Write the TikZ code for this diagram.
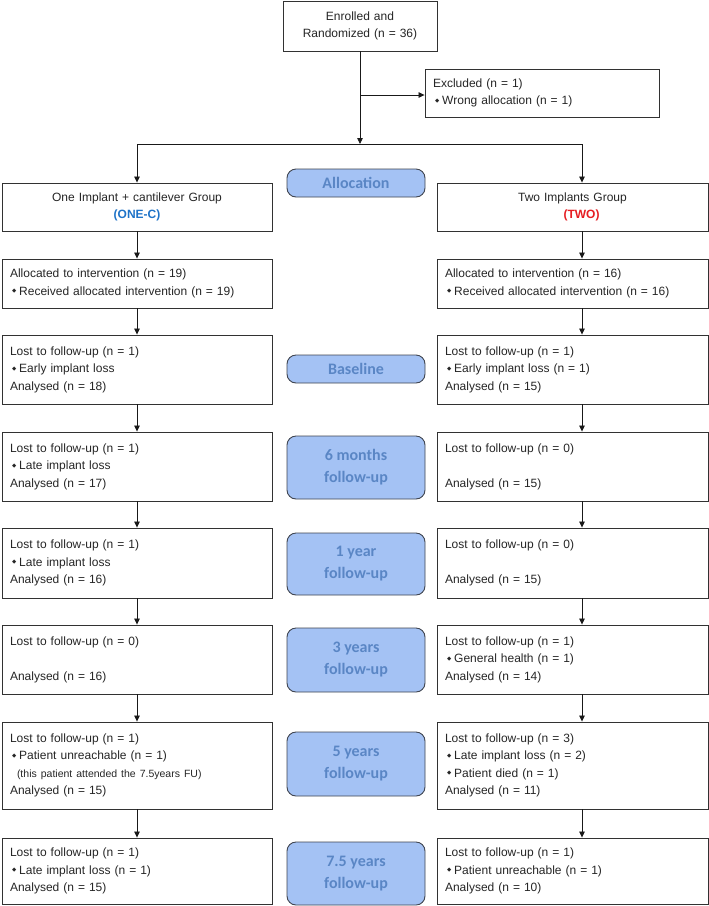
\documentclass[tikz,border=0pt]{standalone}
\usepackage{fontspec}
\setmainfont{Liberation Sans}
\newfontfamily\pillfont{Carlito}
\newfontfamily\symfont{DejaVu Sans}
\usetikzlibrary{arrows.meta,calc}
\definecolor{pillfill}{RGB}{164,194,244}
\definecolor{pilltext}{RGB}{90,134,197}
\definecolor{pilldraw}{RGB}{64,69,80}
\definecolor{oneblue}{RGB}{30,115,200}
\definecolor{twored}{RGB}{230,30,35}
\definecolor{boxline}{RGB}{50,50,50}
\newcommand\bul{\hspace*{2pt}\raisebox{2.6pt}{\symfont\fontsize{5.5}{5.5}\selectfont ◆}\hspace{3pt}}
\newcommand\smallnote[1]{{\fontsize{10.5}{17.5}\selectfont\hspace*{7pt}#1}}
\begin{document}
\begin{tikzpicture}[x=1pt,y=-1pt,
  box/.style={draw=boxline, line width=0.9pt, fill=white, inner xsep=8pt, inner ysep=0pt,
    text width=254pt, align=left, font=\fontsize{12}{17.5}\selectfont, text=black!85},
  rbox/.style={box, text width=255pt},
  pill/.style={draw=pilldraw, line width=0.9pt, fill=pillfill, rounded corners=9pt,
    minimum width=138pt, text=pilltext, font=\pillfont\bfseries\fontsize{16}{22}\selectfont,
    align=center, inner sep=0pt},
  arr/.style={draw=black!90, line width=0.8pt, -{Triangle[length=6pt,width=5.5pt]}},
  ln/.style={draw=black!90, line width=0.8pt}]

\useasboundingbox (0,0) rectangle (709,906);
\fill[white] (0,0) rectangle (709,906);

% top
\node[box, align=center, text width=140pt, inner xsep=7pt, minimum height=50pt] (enr) at (360,26)
  {Enrolled and\\Randomized (n = 36)};
\node[box, text width=218pt, minimum height=48pt] (exc) at (542,93)
  {Excluded (n = 1)\\\bul Wrong allocation (n = 1)};

\coordinate (split) at (360,144);
\coordinate (lj) at (137,144);
\coordinate (rj) at (582,144);

% group boxes
\node[box, align=center, minimum height=48pt] (g1) at (137,207)
  {One Implant + cantilever Group\\{\bfseries\color{oneblue}(ONE-C)}};
\node[rbox, align=center, minimum height=48pt] (g2) at (572.5,207)
  {Two Implants Group\\\hspace*{18pt}{\bfseries\color{twored}(TWO)}};
\node[pill, minimum height=28pt] (p0) at (356,183) {Allocation};

% allocated
\node[box, minimum height=49pt] (l1) at (137,283.5)
  {Allocated to intervention (n = 19)\\\bul Received allocated intervention (n = 19)};
\node[rbox, minimum height=49pt] (r1) at (572.5,283.5)
  {Allocated to intervention (n = 16)\\\bul Received allocated intervention (n = 16)};

% baseline
\node[box, minimum height=69pt] (l2) at (137,369.5)
  {Lost to follow-up (n = 1)\\\bul Early implant loss\\Analysed (n = 18)};
\node[rbox, minimum height=69pt] (r2) at (572.5,369.5)
  {Lost to follow-up (n = 1)\\\bul Early implant loss (n = 1)\\Analysed (n = 15)};
\node[pill, minimum height=28pt] (p1) at (356,369) {Baseline};

% 6 months
\node[box, minimum height=69pt] (l3) at (137,466.5)
  {Lost to follow-up (n = 1)\\\bul Late implant loss\\Analysed (n = 17)};
\node[rbox, minimum height=69pt] (r3) at (572.5,466.5)
  {Lost to follow-up (n = 0)\\~\\Analysed (n = 15)};
\node[pill, minimum height=63pt] (p2) at (356,467.5) {6 months\\follow-up};

% 1 year
\node[box, minimum height=70pt] (l4) at (137,563)
  {Lost to follow-up (n = 1)\\\bul Late implant loss\\Analysed (n = 16)};
\node[rbox, minimum height=70pt] (r4) at (572.5,563)
  {Lost to follow-up (n = 0)\\~\\Analysed (n = 15)};
\node[pill, minimum height=62pt] (p3) at (356,564) {1 year\\follow-up};

% 3 years
\node[box, minimum height=69pt] (l5) at (137,659.5)
  {Lost to follow-up (n = 0)\\~\\Analysed (n = 16)};
\node[rbox, minimum height=69pt] (r5) at (572.5,659.5)
  {Lost to follow-up (n = 1)\\\bul General health (n = 1)\\Analysed (n = 14)};
\node[pill, minimum height=64pt] (p4) at (356,660) {3 years\\follow-up};

% 5 years
\node[box, minimum height=87pt] (l6) at (137,765.5)
  {Lost to follow-up (n = 1)\\\bul Patient unreachable (n = 1)\\\smallnote{(this patient attended the 7.5years FU)}\\Analysed (n = 15)};
\node[rbox, minimum height=87pt] (r6) at (572.5,765.5)
  {Lost to follow-up (n = 3)\\\bul Late implant loss (n = 2)\\\bul Patient died (n = 1)\\Analysed (n = 11)};
\node[pill, minimum height=64pt] (p5) at (356,764) {5 years\\follow-up};

% 7.5 years
\node[box, minimum height=66pt] (l7) at (137,871)
  {Lost to follow-up (n = 1)\\\bul Late implant loss (n = 1)\\Analysed (n = 15)};
\node[rbox, minimum height=66pt] (r7) at (572.5,871)
  {Lost to follow-up (n = 1)\\\bul Patient unreachable (n = 1)\\Analysed (n = 10)};
\node[pill, minimum height=63pt] (p6) at (356,873.5) {7.5 years\\follow-up};

% connectors
\draw[arr] (enr.south) -- (split);
\draw[arr] (enr.south |- 0,95) -- (exc.west |- 0,95);
\draw[ln] (lj) -- (rj);
\draw[arr] (lj) -- (g1.north);
\draw[arr] (rj) -- (g2.north -| rj);
\draw[arr] (g1.south) -- (l1.north);
\draw[arr] (g2.south -| rj) -- (r1.north -| rj);
\foreach \a/\b in {l1/l2,l2/l3,l3/l4,l4/l5,l5/l6,l6/l7}{
  \draw[arr] (\a.south) -- (\b.north);
}
\foreach \a/\b in {r1/r2,r2/r3,r3/r4,r4/r5,r5/r6,r6/r7}{
  \draw[arr] (\a.south -| rj) -- (\b.north -| rj);
}
\end{tikzpicture}
\end{document}
